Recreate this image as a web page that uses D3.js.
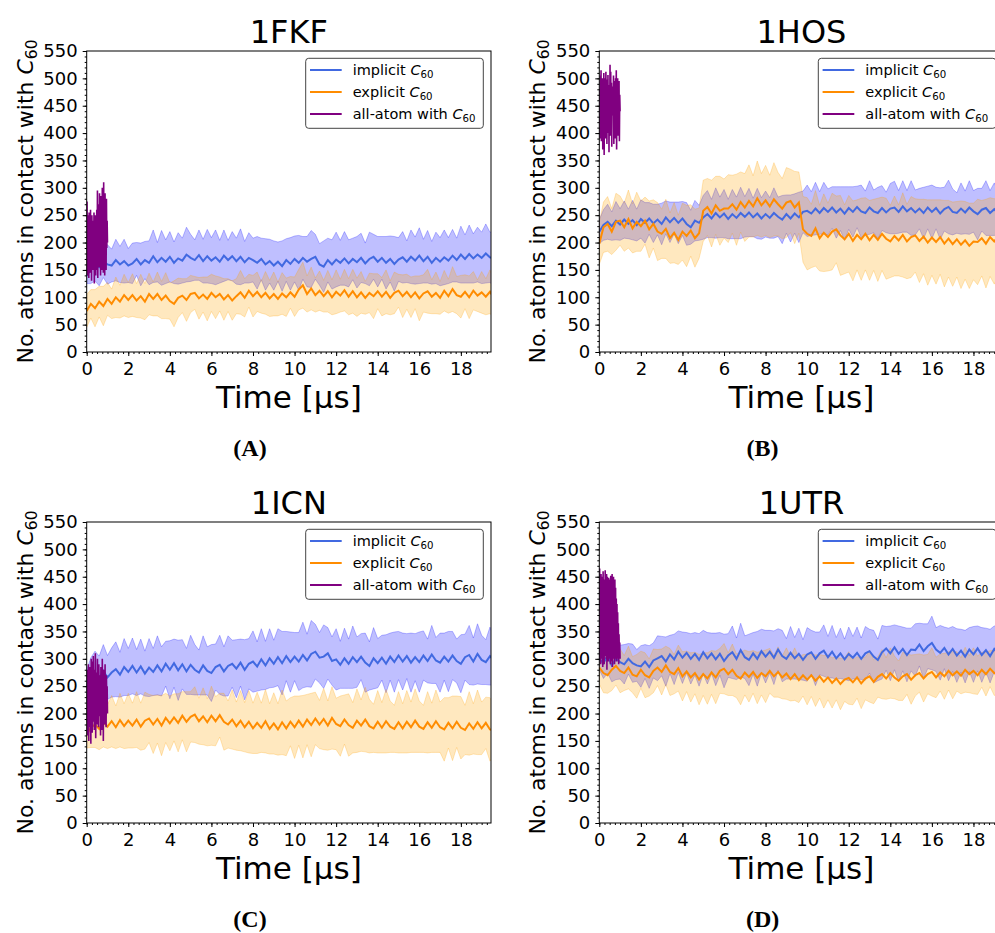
<!DOCTYPE html>
<html>
<head>
<meta charset="utf-8">
<script src="https://cdn.jsdelivr.net/npm/d3@7"></script>
<style>
  body { margin: 0; background: #fff; }
  text { font-family: "DejaVu Sans", sans-serif; fill: #000; }
</style>
</head>
<body>
<div id="chart"></div>
<script>
// sample spacing of the coarse-grained runs and of the all-atom runs (µs)
var step = 0.2;
var allStep = 1 / 60;

var yTicks = [0, 50, 100, 150, 200, 250, 300, 350, 400, 450, 500, 550];
var xTicks = [0, 2, 4, 6, 8, 10, 12, 14, 16, 18];

// 1FKF
var fkfImpMean = [140,150,160,155,166,160, 158,168,160,166,158, 162,170,160,168,163, 175,164,172,165,174, 163,171,167,178,172, 168,177,166,175,167, 173,165,176,168,175, 166,174,164,172,168, 163,170,160,166,158, 165,157,168,161,170, 163,172,165,170,174, 160,156,168,160,169, 163,171,162,170,164, 172,162,170,174,165, 172,163,170,161,169, 173,165,174,167,176, 166,174,163,172,165, 173,167,176,168,178, 170,179,171,178,172, 180,173,170];
var fkfImpSd = [15,25,30,34,30,36, 30,38,33,40,31, 37,30,39,34,40, 48,36,50,40,46, 38,47,41,50,43, 37,46,40,49,42, 50,39,47,36,45, 42,51,38,46,40, 48,38,47,40,45, 36,46,39,48,42, 50,39,46,52,41, 38,47,40,45,50, 41,49,43,38,47, 45,37,49,41,46, 39,48,42,50,40, 47,38,49,43,51, 40,48,39,47,44, 50,42,48,40,52, 44,53,45,50,47, 54,46,50];
var fkfExpMean = [75,88,80,92,84,97, 88,100,92,104,95, 104,94,102,92,106, 97,106,95,103,93, 88,99,103,95,106, 108,98,105,97,108, 100,106,96,104,94, 102,109,99,112,102, 110,100,108,98,106, 97,107,100,109,101, 114,122,106,116,104, 112,102,111,100,110, 103,113,101,111,100, 109,99,108,102,111, 101,110,99,108,112, 102,110,100,109,98, 107,111,101,108,99, 112,102,115,104,101, 110,100,112,103,109, 101,110,98];
var fkfExpSd = [30,26,34,28,36,30, 27,37,30,38,32, 39,31,40,33,38, 31,40,34,42,33, 42,36,31,39,34, 30,38,32,40,34, 39,31,38,30,36, 32,40,35,30,38, 36,29,39,33,40, 31,38,35,29,36, 37,42,33,39,31, 36,29,38,32,40, 30,38,33,40,35, 38,30,36,41,32, 35,40,31,38,30, 39,32,37,30,41, 34,40,31,38,30, 37,31,41,34,39, 31,39,35,29,38, 33,40,34];
var fkfAll = [150,275,140,250,165,230,135,255,180,245,145,260,170,235,130,250,175,240,150,230,165,255,125,245,160,250,140,235,175,260,150,295,135,270,165,240,155,290,170,250,140,285,180,255,150,300,160,275,145,310,170,280,140,290,175,265,150,280,190,240,200];

// 1HOS
var hosImpMean = [220,232,238,230,240,233, 242,234,241,232,243, 236,244,235,242,234, 246,237,245,236,244, 234,228,240,236,246, 252,244,254,246,253, 243,252,245,254,247, 255,246,253,244,252, 245,254,247,242,252, 244,253,246,256,258, 253,262,254,263,256, 264,255,262,253,263, 256,265,257,254,264, 257,254,263,255,262, 264,256,266,257,263, 255,262,254,264,256, 263,253,261,265,256, 254,262,255,264,257, 252,260,263,254,261, 253,262,258];
var hosImpSd = [22,28,32,26,35,29, 34,27,36,29,35, 37,29,35,28,38, 30,37,29,38,31, 39,31,37,32,40, 43,35,46,37,44, 36,45,38,47,37, 44,35,46,38,42, 37,46,36,44,35, 43,36,46,38,47, 40,48,39,47,42, 38,47,40,49,39, 46,38,48,40,49, 39,47,41,37,46, 48,39,47,38,50, 41,37,47,39,49, 38,47,40,49,42, 37,47,39,49,38, 47,39,50,41,48, 39,50,43];
var hosExpMean = [198,228,234,220,238,240, 228,243,226,238,230, 240,224,234,220,216, 225,208,218,205,220, 212,222,208,217,258, 265,253,268,258,262, 262,270,260,274,264, 276,266,281,268,277, 266,279,270,262,273, 276,264,273,224,216, 212,226,208,218,210, 220,224,213,206,216, 203,214,206,216,204, 214,205,216,207,202, 212,204,214,202,210, 213,203,211,200,209, 201,210,198,207,197, 206,196,204,194,202, 201,208,198,210,202, 212,196,214];
var hosExpSd = [38,46,50,42,52,45, 44,53,45,54,46, 43,52,44,53,45, 54,46,55,45,52, 56,47,53,46,56, 52,61,53,63,54, 62,53,65,55,62, 66,56,68,58,64, 57,67,58,55,64, 58,66,56,60,66, 58,69,60,71,62, 70,61,73,63,70, 73,64,75,66,73, 65,76,67,74,66, 73,65,77,68,74, 67,76,68,78,69, 77,68,79,70,77, 69,80,71,78,70, 78,69,81,72,78, 71,82,73];
var hosAll = [420,480,390,505,430,515,385,490,445,500,370,495,420,510,360,480,440,500,390,512,415,475,380,498,435,506,400,488,365,480,440,525,395,512,420,492,375,472,432,485,450,505,380,495,420,470,390,500,430,515,370,488,445,500,395,480,415,495,385,470,440];

// 1ICN
var icnImpMean = [250,264,272,265,278,266, 275,281,271,285,276, 287,275,286,273,284, 276,288,277,291,280, 292,279,290,277,289, 280,275,288,278,274, 285,289,277,287,291, 282,293,280,291,295, 286,299,288,301,291, 303,292,305,294,304, 295,307,297,309,313, 302,304,310,296,299, 289,301,291,303,294, 304,293,287,301,292, 302,291,304,294,306, 295,305,293,303,294, 306,296,308,297,293, 304,295,306,296,291, 303,307,295,309,298, 294,305,296];
var icnImpSd = [30,38,42,40,48,40, 45,50,41,52,43, 51,42,50,41,53, 43,54,45,41,53, 44,55,45,42,54, 46,41,54,44,52, 42,54,45,55,43, 53,43,55,46,56, 45,56,44,54,43, 52,58,45,55,44, 53,60,48,61,50, 46,58,47,44,56, 43,55,45,57,46, 42,54,44,56,45, 41,53,43,55,44, 52,41,54,43,55, 45,40,53,42,54, 43,55,44,40,53, 42,54,43,55,45, 41,53,44];
var icnExpMean = [162,174,180,172,185,176, 186,175,188,177,187, 178,189,176,187,191, 180,190,178,192,182, 193,183,196,185,194, 198,186,195,184,196, 186,197,185,180,189, 177,187,175,185,173, 183,174,186,172,182, 171,184,173,185,175, 187,176,189,179,191, 180,190,178,192,181, 177,189,179,174,187, 178,189,177,173,185, 174,186,176,172,184, 173,185,175,187,176, 172,184,174,186,175, 171,183,173,185,174, 170,182,172,184,173, 183,171,169];
var icnExpSd = [25,36,42,38,46,40, 47,39,49,41,50, 41,51,43,52,44, 53,44,55,45,50, 43,53,44,55,46, 51,42,52,43,54, 45,40,52,43,54, 44,55,45,57,46, 56,45,58,46,56, 47,59,50,44,57, 45,57,46,58,48, 44,56,45,57,47, 55,45,57,46,58, 47,59,49,44,57, 46,58,47,43,56, 45,57,46,58,47, 43,56,45,57,46, 58,46,59,47,57, 45,58,46,59,48, 47,58,45];
var icnAll = [185,280,160,255,205,290,150,265,230,285,175,240,145,300,210,260,165,295,185,305,225,250,170,280,200,310,155,275,215,260,180,300,200,245,175,290,210,270,195,255,160,285,220,250,170,300,205,265,150,280,225,245,180,290,200,260,175,270,210,250,200];

// 1UTR
var utrImpMean = [300,292,306,288,300,294, 290,300,292,288,286, 295,285,297,301,305, 295,308,299,313,302, 311,300,309,298,312, 301,310,299,309,296, 306,312,300,316,303, 298,310,300,314,304, 313,302,317,305,300, 311,301,309,298,308, 312,300,310,315,303, 313,301,310,299,309, 302,311,300,310,314, 304,298,312,319,310, 321,309,318,307,317, 316,326,314,323,329, 317,311,320,308,318, 306,315,304,317,308, 319,307,316,305,318, 309,306,317];
var utrImpSd = [20,28,32,30,38,31, 36,28,35,29,38, 31,39,32,41,36, 45,35,46,38,47, 37,46,39,48,40, 47,37,48,39,49, 40,48,38,49,39, 47,38,50,40,48, 39,49,38,47,37, 48,38,47,37,49, 40,49,39,47,38, 48,38,46,37,49, 39,47,38,49,40, 48,38,49,40,50, 41,51,40,49,39, 48,39,50,41,49, 40,50,38,48,41, 49,39,48,40,51, 41,50,40,49,42, 51,40,50];
var utrExpMean = [284,274,270,280,287,278, 274,284,271,268,280, 270,266,278,284,276, 288,276,272,283,268, 277,266,274,262,272, 264,275,266,278,282, 272,280,269,264,275, 267,276,265,274,268, 278,268,276,266,273, 263,272,261,270,262, 270,260,268,258,266, 256,264,254,262,265, 257,266,255,264,268, 258,267,272,264,274, 266,260,268,272,262, 270,274,264,272,276, 266,275,268,278,270, 277,269,280,272,278, 270,280,272,282,274, 271,281,286];
var utrExpSd = [30,36,33,38,35,40, 32,39,33,40,34, 41,34,40,33,42, 35,43,36,42,45, 37,45,38,46,39, 47,40,48,41,46, 39,47,40,48,41, 46,39,47,40,48, 41,38,46,39,47, 40,48,41,38,46, 39,47,40,48,41, 46,39,47,40,48, 41,38,46,39,47, 40,37,45,38,46, 39,36,44,37,45, 38,35,43,36,44, 37,34,42,35,43, 36,33,41,34,42, 35,32,40,33,41, 34,31,39];
var utrAll = [300,465,305,445,290,455,320,450,300,435,285,460,315,445,290,438,305,462,330,442,300,455,280,450,310,440,295,448,320,428,300,445,290,452,310,435,295,455,285,440,305,450,300,425,290,445,315,430,300,410,295,400,310,385,300,365,290,345,305,330,300];

var panels = [
  { title: "1FKF", tag: "(A)", left: 86.7, top: 51, impMean: fkfImpMean, impSd: fkfImpSd, expMean: fkfExpMean, expSd: fkfExpSd, all: fkfAll },
  { title: "1HOS", tag: "(B)", left: 599.3, top: 51, impMean: hosImpMean, impSd: hosImpSd, expMean: hosExpMean, expSd: hosExpSd, all: hosAll },
  { title: "1ICN", tag: "(C)", left: 86.7, top: 522, impMean: icnImpMean, impSd: icnImpSd, expMean: icnExpMean, expSd: icnExpSd, all: icnAll },
  { title: "1UTR", tag: "(D)", left: 599.3, top: 522, impMean: utrImpMean, impSd: utrImpSd, expMean: utrExpMean, expSd: utrExpSd, all: utrAll }
];

var w = 995, h = 933;
var pw = 404.3, ph = 301;

var svg = d3.select("#chart").append("svg")
  .attr("width", w)
  .attr("height", h);

var xScale = d3.scaleLinear().domain([0, 19.45]).range([0, pw]);
var yScale = d3.scaleLinear().domain([0, 550]).range([ph, 0]);

// legend entries
var legendItems = [
  { label: "implicit ", color: "#4169E1" },
  { label: "explicit ", color: "#FF8C00" },
  { label: "all-atom with ", color: "#800080" }
];

panels.forEach(function(p, k) {
  var g = svg.append("g").attr("transform", "translate(" + p.left + "," + p.top + ")");

  g.append("clipPath").attr("id", "clip" + k)
    .append("rect").attr("width", pw).attr("height", ph);

  var plot = g.append("g").attr("clip-path", "url(#clip" + k + ")");

  var band = function(mean, sd) {
    return d3.area()
      .x((d, i) => xScale(i * step))
      .y0((d, i) => yScale(d - sd[i]))
      .y1((d, i) => yScale(d + sd[i]))(mean);
  };
  var line = d3.line()
    .x((d, i) => xScale(i * step))
    .y(d => yScale(d));
  var allLine = d3.line()
    .x((d, i) => xScale(i * allStep))
    .y(d => yScale(d));

  // bands first, then the mean lines
  plot.append("path").attr("d", band(p.impMean, p.impSd))
    .attr("fill", "blue").attr("fill-opacity", 0.25)
    .attr("stroke", "blue").attr("stroke-opacity", 0.25).attr("stroke-width", 1);
  plot.append("path").attr("d", band(p.expMean, p.expSd))
    .attr("fill", "orange").attr("fill-opacity", 0.25)
    .attr("stroke", "orange").attr("stroke-opacity", 0.25).attr("stroke-width", 1);

  plot.append("path").attr("d", line(p.impMean))
    .attr("fill", "none").attr("stroke", "#4169E1").attr("stroke-width", 2);
  plot.append("path").attr("d", line(p.expMean))
    .attr("fill", "none").attr("stroke", "#FF8C00").attr("stroke-width", 2);
  plot.append("path").attr("d", allLine(p.all))
    .attr("fill", "none").attr("stroke", "#800080").attr("stroke-width", 1.6);

  // axes
  var yAxis = d3.axisLeft(yScale).tickValues(yTicks).tickSize(4).tickPadding(5);
  var xAxis = d3.axisBottom(xScale).tickValues(xTicks).tickSize(4).tickPadding(6);
  var yMinor = d3.axisLeft(yScale).tickValues(d3.range(0, 551, 10)).tickSize(2).tickFormat("");
  var xMinor = d3.axisBottom(xScale).tickValues(d3.range(0, 19.45, 0.25)).tickSize(2).tickFormat("");

  g.append("g").call(yMinor).call(s => s.select(".domain").remove());
  g.append("g").attr("transform", "translate(0," + ph + ")").call(xMinor).call(s => s.select(".domain").remove());

  var ya = g.append("g").call(yAxis);
  var xa = g.append("g").attr("transform", "translate(0," + ph + ")").call(xAxis);
  [ya, xa].forEach(function(a) {
    a.select(".domain").remove();
    a.selectAll("text").attr("font-size", "18px").attr("font-family", "DejaVu Sans").attr("fill", "#000");
  });

  g.append("rect").attr("width", pw).attr("height", ph)
    .attr("fill", "none").attr("stroke", "#000").attr("stroke-width", 1);

  // title, axis labels
  g.append("text").attr("x", pw / 2).attr("y", -8).attr("text-anchor", "middle")
    .attr("font-size", "32px").text(p.title);
  g.append("text").attr("x", pw / 2).attr("y", ph + 56).attr("text-anchor", "middle")
    .attr("font-size", "31px").text("Time [µs]");

  var yl = g.append("text")
    .attr("transform", "translate(-54," + (ph / 2) + ") rotate(-90)")
    .attr("text-anchor", "middle").attr("font-size", "22px");
  yl.append("tspan").text("No. atoms in contact with ");
  yl.append("tspan").attr("font-style", "italic").text("C");
  yl.append("tspan").attr("font-size", "15.5px").attr("dy", 4).text("60");

  // legend
  var lg = g.append("g").attr("transform", "translate(" + (pw - 185.3) + ",7.3)");
  lg.append("rect").attr("width", 177.6).attr("height", 70).attr("rx", 3)
    .attr("fill", "#fff").attr("fill-opacity", 0.8)
    .attr("stroke", "#444").attr("stroke-width", 1);
  legendItems.forEach(function(item, i) {
    var yy = 11.7 + i * 22;
    lg.append("line").attr("x1", 4.3).attr("x2", 36).attr("y1", yy).attr("y2", yy)
      .attr("stroke", item.color).attr("stroke-width", 2);
    var t = lg.append("text").attr("x", 47).attr("y", yy + 5).attr("font-size", "14.5px");
    t.append("tspan").text(item.label);
    t.append("tspan").attr("font-style", "italic").text("C");
    t.append("tspan").attr("font-size", "10.2px").attr("dy", 3).text("60");
  });

  // sub-figure tag
  g.append("text").attr("x", 163.3).attr("y", 405).attr("text-anchor", "middle")
    .attr("font-weight", "bold").attr("font-size", "24px")
    .style("font-family", "'Liberation Serif', serif").text(p.tag);
});
</script>
</body>
</html>
